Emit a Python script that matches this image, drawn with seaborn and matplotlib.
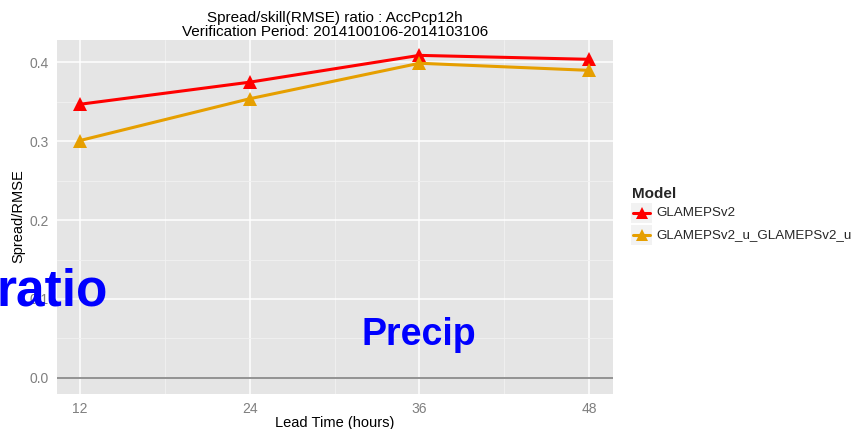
import matplotlib
matplotlib.use("Agg")
import matplotlib.pyplot as plt
import seaborn as sns
import pandas as pd
from matplotlib.lines import Line2D
from matplotlib.patches import Rectangle

lead_times = [12, 24, 36, 48]
models = ["GLAMEPSv2", "GLAMEPSv2_u_GLAMEPSv2_u"]
ratio_glameps = [0.347, 0.375, 0.409, 0.404]
ratio_glameps_u = [0.301, 0.354, 0.399, 0.390]
colors = ["#FF0000", "#E69F00"]
y_ticks = [0.0, 0.1, 0.2, 0.3, 0.4]
x_ticks = [12, 24, 36, 48]

df = pd.DataFrame({
    "lead": lead_times * 2,
    "value": ratio_glameps + ratio_glameps_u,
    "model": [models[0]] * 4 + [models[1]] * 4,
})

sns.set_theme(style="darkgrid")
plt.rcParams["font.family"] = ["Liberation Sans", "DejaVu Sans"]

fig = plt.figure(figsize=(8.51, 4.29), dpi=100)
fig.patch.set_facecolor("white")
ax = fig.add_axes([57 / 851, 35 / 429, (613 - 57) / 851, (394 - 40) / 429])
ax.set_facecolor("#E5E5E5")

sns.lineplot(data=df, x="lead", y="value", hue="model", palette=colors,
             marker="^", markersize=10, markeredgewidth=0, linewidth=2.2,
             ax=ax, legend=False, zorder=3)

ax.axhline(0, color="#808080", lw=1.2, zorder=2)

ax.set_xlim(10.37, 49.7)
ax.set_ylim(-0.0205, 0.4285)
ax.set_xticks(x_ticks)
ax.set_yticks(y_ticks)
ax.set_xticks([18, 30, 42], minor=True)
ax.set_yticks([0.05, 0.15, 0.25, 0.35], minor=True)
ax.grid(which="major", color="white", lw=1.1)
ax.grid(which="minor", color="#F2F2F2", lw=0.6)
for s in ax.spines.values():
    s.set_visible(False)
ax.tick_params(axis="both", which="major", colors="#4D4D4D", labelcolor="#7F7F7F",
               labelsize=10, length=4, width=0.8, direction="out")
ax.tick_params(which="minor", length=0)
ax.tick_params(axis="x", pad=2)
ax.tick_params(axis="y", pad=2)
ax.set_xticklabels([str(t) for t in x_ticks])
ax.set_yticklabels([f"{t:.1f}" for t in y_ticks])
ax.set_xlabel("Lead Time (hours)", fontsize=10.5, color="black", labelpad=0)
ax.set_ylabel("Spread/RMSE", fontsize=10.5, color="black", labelpad=3)
ax.yaxis.set_label_coords(-32 / 556, 0.503)
ax.set_title("Spread/skill(RMSE) ratio : AccPcp12h\nVerification Period: 2014100106-2014103106",
             fontsize=11, color="black", pad=3, linespacing=1.0)

# legend
fig.text(632 / 851, 1 - 194 / 429, "Model", fontsize=11, fontweight="bold",
         va="center", ha="left")
for i, (m, c) in enumerate(zip(models, colors)):
    yc = 1 - (213 + 22 * i) / 429
    fig.patches.append(Rectangle((631 / 851, yc - 10 / 429), 21 / 851, 20 / 429,
                                 transform=fig.transFigure, facecolor="#F2F2F2",
                                 edgecolor="none"))
    fig.lines.append(Line2D([633 / 851, 650 / 851], [yc, yc], transform=fig.transFigure,
                            color=c, lw=2.2))
    fig.lines.append(Line2D([641.5 / 851], [yc], transform=fig.transFigure,
                            color=c, marker="^", markersize=9, markeredgewidth=0))
    fig.text(656 / 851, yc, m, fontsize=9.6, va="center", ha="left")

# overlaid annotations
fig.text(108 / 851, 1 - 305 / 429, "ratio", fontsize=37, fontweight="bold",
         color="#0000FF", ha="right", va="baseline")
fig.text(362 / 851, 1 - 345 / 429, "Precip", fontsize=27, fontweight="bold",
         color="#0000FF", ha="left", va="baseline")

fig.savefig("out.png", dpi=100)
